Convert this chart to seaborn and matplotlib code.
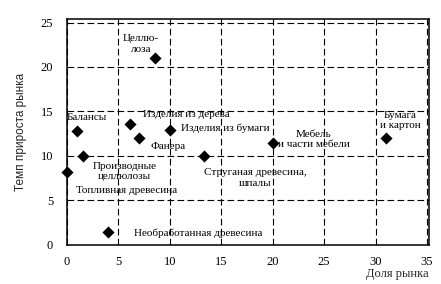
import matplotlib
matplotlib.use("Agg")
import matplotlib.pyplot as plt
import seaborn as sns
import pandas as pd

# Market share (%) and market growth rate (%) for each product group
products = [
    "Топливная древесина", "Балансы", "Производные целлюлозы",
    "Необработанная древесина", "Изделия из дерева", "Фанера",
    "Целлюлоза", "Изделия из бумаги", "Струганая древесина, шпалы",
    "Мебель и части мебели", "Бумага и картон",
]
market_share = [0.0, 1.0, 1.6, 4.0, 6.1, 7.0, 8.6, 10.0, 13.3, 20.0, 31.0]
growth_rate = [8.2, 12.8, 10.0, 1.4, 13.6, 12.0, 21.0, 12.9, 10.0, 11.4, 12.0]

# Caption texts with their anchor positions (data units) and alignment
captions = ["Целлю-\nлоза", "Балансы", "Изделия из дерева", "Изделия из бумаги",
            "Фанера", "Производные\nцеллюлозы", "Топливная древесина",
            "Струганая древесина,\nшпалы", "Мебель\nи части мебели",
            "Бумага\nи картон", "Необработанная древесина"]
caption_x = [7.2, 1.9, 7.4, 11.1, 8.1, 5.6, 0.9, 18.3, 24.0, 32.4, 6.55]
caption_y = [22.6, 14.3, 14.65, 13.05, 11.05, 8.25, 6.1, 7.5, 11.85, 14.0, 1.3]
caption_ha = ["center", "center", "left", "left", "left", "center", "left",
              "center", "center", "center", "left"]

x_ticks = [0, 5, 10, 15, 20, 25, 30, 35]
y_ticks = [0, 5, 10, 15, 20, 25]

sns.set_style("white")
plt.rcParams["font.family"] = ["Liberation Serif", "DejaVu Serif"]

df = pd.DataFrame({"share": market_share, "growth": growth_rate, "product": products})

fig = plt.figure(figsize=(4.41, 2.84), dpi=100)
ax = fig.add_axes([0.152, 0.137, 0.821, 0.796])

sns.scatterplot(data=df, x="share", y="growth", marker="D", color="black",
                s=38, edgecolor="black", linewidth=0, ax=ax, zorder=5, clip_on=False)

for txt, tx, ty, ha in zip(captions, caption_x, caption_y, caption_ha):
    ax.text(tx, ty, txt, ha=ha, va="center", multialignment="center",
            fontsize=8, color="black", zorder=6)

ax.set_xlim(0, 35.2)
ax.set_ylim(-0.05, 25.4)
ax.set_xticks(x_ticks)
ax.set_yticks(y_ticks)
ax.tick_params(axis="x", direction="out", length=4, width=0.8, pad=4,
               labelsize=9, colors="black")
ax.tick_params(axis="y", length=0, pad=10, labelsize=9, colors="black")

ax.grid(True, color="black", linestyle=(0, (6, 3)), linewidth=0.8)
ax.set_axisbelow(True)
for sp in ax.spines.values():
    sp.set_color("black")
    sp.set_linewidth(1.1)

ax.set_xlabel("Доля рынка", loc="right", fontsize=9, labelpad=0)
ax.set_ylabel("Темп прироста рынка", fontsize=8.5, labelpad=10,
              family=["Liberation Sans", "DejaVu Sans"])

fig.savefig("out.png", dpi=100)
